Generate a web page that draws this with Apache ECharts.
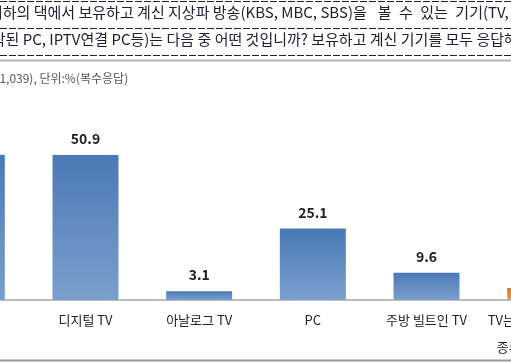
<!DOCTYPE html>
<html>
<head>
<meta charset="utf-8">
<script src="https://cdn.jsdelivr.net/npm/echarts@6/dist/echarts.min.js"></script>
<style>
html,body{margin:0;padding:0;background:#fff;overflow:hidden;width:511px;height:362px;position:relative;}
#chart{width:682px;height:362px;position:absolute;left:-85px;top:0;}
</style>
</head>
<body>
<div id="chart"></div>
<script>
const categories = ['스마트 TV', '디지털 TV', '아날로그 TV', 'PC', '주방 빌트인 TV', 'TV는 있으나 정확한\n종류를 모르겠음'];
const values = [51.0, 50.9, 3.1, 25.1, 9.6, 4.2];
const questionLine1 = '귀하의 댁에서 보유하고 계신 지상파 방송(KBS, MBC, SBS)을\u2002 볼\u2002수\u2002있는\u2002기기(TV,';
const questionLine2 = '장착된 PC, IPTV연결 PC등)는 다음 중 어떤 것입니까? 보유하고 계신 기기를 모두 응답해 주십시오.';
const noteText = '(N=1,039), 단위:%(복수응답)';

const FONT = '"Noto Sans CJK KR", "Noto Sans", sans-serif';
const OFF = 85; // horizontal shift of the canvas relative to the window
const blue = new echarts.graphic.LinearGradient(0, 0, 0, 1, [
  {offset: 0, color: '#4b79b7'}, {offset: 1, color: '#7a9fcd'}
]);
const orange = new echarts.graphic.LinearGradient(0, 0, 0, 1, [
  {offset: 0, color: '#e0741a'}, {offset: 1, color: '#ec9a50'}
]);

const chart = echarts.init(document.getElementById('chart'), null, {renderer: 'canvas'});
chart.setOption({
  animation: false,
  backgroundColor: '#fff',
  grid: {left: 0, right: 0, top: 15, bottom: 62, containLabel: false},
  xAxis: {
    type: 'category',
    data: categories,
    axisLine: {show: true, lineStyle: {color: '#a6a6a6', width: 1.5}},
    axisTick: {show: false},
    axisLabel: {
      interval: 0, margin: 7, color: '#222', fontSize: 13, fontFamily: FONT,
      lineHeight: 27, verticalAlign: 'top'
    }
  },
  yAxis: {
    type: 'value', min: 0, max: 100,
    show: false, splitLine: {show: false}
  },
  series: [{
    type: 'bar',
    barWidth: 66,
    data: values.map((v, i) => ({
      value: v,
      itemStyle: {color: i === values.length - 1 ? orange : blue}
    })),
    label: {
      show: true, position: 'top', distance: 9,
      color: '#222', fontSize: 14, fontFamily: FONT, fontWeight: 'bold',
      formatter: p => p.value.toFixed(1)
    }
  }],
  graphic: [
    {type: 'line', shape: {x1: OFF, y1: 1.5, x2: OFF + 511, y2: 1.5}, style: {stroke: '#222', lineWidth: 1, lineDash: [7, 2]}},
    {type: 'line', shape: {x1: OFF, y1: 28.5, x2: OFF + 511, y2: 28.5}, style: {stroke: '#222', lineWidth: 1, lineDash: [7, 2]}},
    {type: 'line', shape: {x1: OFF, y1: 55.5, x2: OFF + 511, y2: 55.5}, style: {stroke: '#222', lineWidth: 1, lineDash: [7, 2]}},
    {type: 'line', shape: {x1: OFF, y1: 60.5, x2: OFF + 511, y2: 60.5}, style: {stroke: '#b4b4b4', lineWidth: 2}},
    {type: 'line', shape: {x1: OFF, y1: 360.5, x2: OFF + 511, y2: 360.5}, style: {stroke: '#9a9a9a', lineWidth: 2}},
    {type: 'text', x: OFF - 11, y: 5, style: {text: questionLine1, font: '15px ' + FONT, fill: '#1e1e30'}},
    {type: 'text', x: OFF - 22, y: 32, style: {text: questionLine2, font: '15px ' + FONT, fill: '#1e1e30'}},
    {type: 'text', x: OFF - 20, y: 72, style: {text: noteText, font: '12px ' + FONT, fill: '#555'}}
  ]
});
</script>
</body>
</html>
